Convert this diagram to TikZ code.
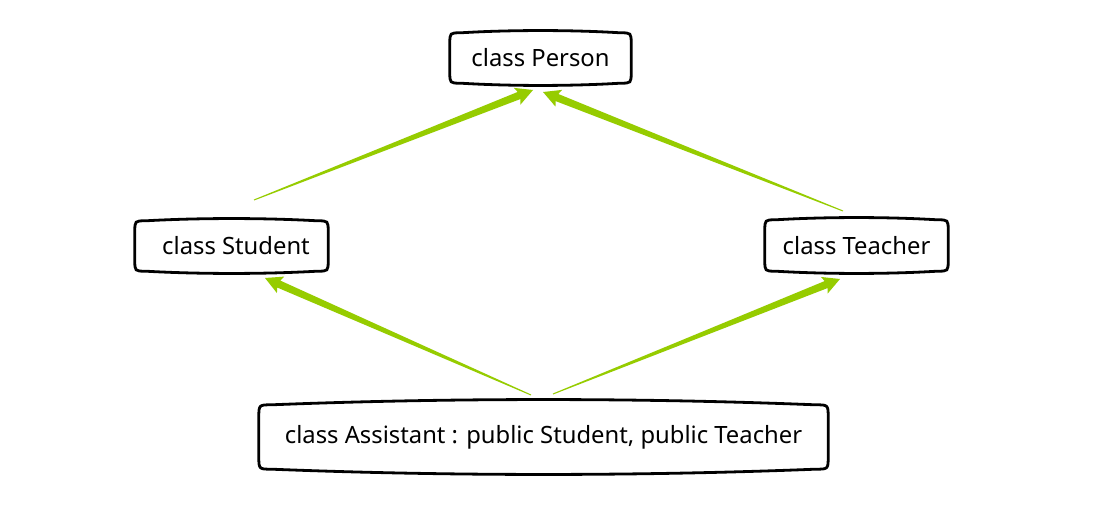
\documentclass[tikz,border=0pt]{standalone}
\usepackage{fontspec}
\setmainfont{Noto Sans}
\usetikzlibrary{calc}
\definecolor{arrowgreen}{RGB}{150,204,0}
\tikzset{
  classbox/.style={inner sep=0pt, font=\fontsize{23.8}{26}\selectfont, text=black},
  boxline/.style={draw=black, line width=2.8pt},
}
% tapered arrow from #1 to #2
\newcommand\taper[2]{%
  \fill[arrowgreen]
    ($(#1)!0.5pt!90:(#2)$) --
    ($($(#2)!15pt!(#1)$)!3.8pt!90:(#2)$) --
    ($($(#2)!17pt!(#1)$)!9pt!90:(#2)$) --
    (#2) --
    ($($(#2)!17pt!(#1)$)!9pt!-90:(#2)$) --
    ($($(#2)!15pt!(#1)$)!3.8pt!-90:(#2)$) --
    ($(#1)!0.5pt!-90:(#2)$) -- cycle;
}
% box outline around node #1 with bulge #2 and corner radius #3
\newcommand\boxshape[3]{%
  \draw[boxline] let \p1=(#1.south west), \p2=(#1.north east),
    \n1={(\x2-\x1)/3} in
    (\x1,\y1+#3) -- (\x1,\y2-#3)
    .. controls (\x1,\y2) .. (\x1+#3,\y2)
    .. controls (\x1+\n1,\y2+#2) and (\x2-\n1,\y2+#2) .. (\x2-#3,\y2)
    .. controls (\x2,\y2) .. (\x2,\y2-#3)
    -- (\x2,\y1+#3)
    .. controls (\x2,\y1) .. (\x2-#3,\y1)
    .. controls (\x2-\n1,\y1-#2) and (\x1+\n1,\y1-#2) .. (\x1+#3,\y1)
    .. controls (\x1,\y1) .. (\x1,\y1+#3);
}
\newcommand\lowered[1]{\raisebox{-3pt}{#1}}
\begin{document}
\begin{tikzpicture}[x=1pt,y=1pt]
\useasboundingbox (0,0) rectangle (1103,523);
\fill[white] (0,0) rectangle (1103,523);

\node[classbox, minimum width=181pt, minimum height=50pt] (person) at (540.5,465) {\lowered{class Person}};
\node[classbox, minimum width=193pt, minimum height=50pt] (student) at (231.5,277) {\lowered{\hspace*{9pt}class Student}};
\node[classbox, minimum width=183pt, minimum height=51pt] (teacher) at (856.5,277.5) {\lowered{class Teacher}};
\node[classbox, minimum width=569pt, minimum height=64pt] (assistant) at (543.5,86) {\lowered{class Assistant : public Student, public Teacher}};

\boxshape{person}{3}{11}
\boxshape{student}{3}{11}
\boxshape{teacher}{3}{11}
\boxshape{assistant}{7}{13}

\coordinate (s1) at (254,323);
\coordinate (e1) at (533,433);
\coordinate (s2) at (843,312);
\coordinate (e2) at (543,431);
\coordinate (s3) at (531,128);
\coordinate (e3) at (265,245);
\coordinate (s4) at (553,129);
\coordinate (e4) at (840,244);

\taper{s1}{e1}
\taper{s2}{e2}
\taper{s3}{e3}
\taper{s4}{e4}
\end{tikzpicture}
\end{document}
